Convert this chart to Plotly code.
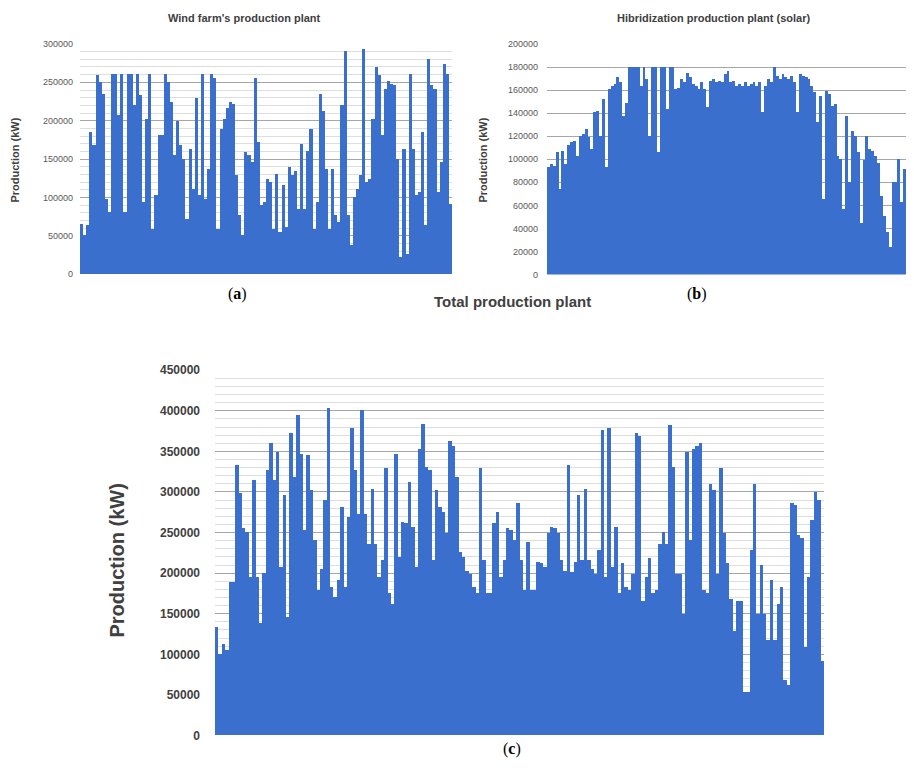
import plotly.graph_objects as go

# ---- data (production, thousands of kW) ----
wind_k = [66, 51, 64, 185, 168, 259, 250, 235, 98, 81, 261, 261, 207, 261, 81, 261, 261, 220, 261, 233,
          94, 202, 261, 59, 103, 181, 181, 261, 250, 224, 155, 200, 168, 150, 72, 163, 111, 230, 103, 261,
          98, 137, 261, 256, 59, 189, 202, 217, 224, 222, 129, 77, 51, 159, 155, 146, 256, 172, 90, 94, 124,
          120, 59, 131, 55, 116, 62, 140, 129, 135, 85, 170, 85, 161, 189, 59, 94, 235, 213, 137, 59, 137,
          77, 68, 220, 291, 77, 38, 101, 111, 129, 293, 120, 124, 202, 270, 259, 181, 241, 252, 248, 246,
          150, 23, 163, 27, 261, 163, 103, 107, 185, 64, 280, 246, 241, 107, 146, 274, 261, 92]

solar_k = [93, 96, 94, 106, 74, 107, 96, 112, 115, 116, 103, 120, 122, 126, 119, 109, 141, 142, 120, 152,
           93, 161, 164, 165, 171, 167, 138, 149, 180, 180, 180, 180, 164, 180, 170, 120, 180, 180, 106, 180,
           180, 144, 180, 180, 161, 162, 170, 167, 175, 171, 165, 164, 161, 167, 161, 145, 168, 170, 167, 168,
           167, 174, 177, 167, 168, 164, 165, 164, 167, 164, 165, 167, 164, 167, 141, 164, 170, 167, 180, 172,
           170, 174, 171, 170, 172, 167, 141, 174, 172, 171, 170, 164, 158, 132, 155, 66, 159, 157, 146, 148,
           103, 100, 57, 138, 80, 125, 120, 106, 45, 99, 120, 109, 107, 103, 97, 68, 51, 37, 24, 80, 80, 100,
           63, 92]

total_k = [133, 100, 113, 105, 189, 189, 333, 298, 255, 250, 195, 314, 195, 138, 200, 327, 360, 314, 349, 207,
           296, 146, 372, 318, 395, 347, 253, 345, 302, 240, 179, 205, 290, 403, 183, 170, 191, 281, 183, 269,
           378, 327, 273, 401, 273, 236, 304,
           236, 195, 216, 329, 175, 162, 347, 220, 263, 261, 312, 257, 207, 353, 384, 331, 327, 216, 302, 281,
           275, 249, 362, 356, 318, 226, 220, 203, 199, 183, 175, 329, 216, 175, 175, 261, 275, 195, 216, 255,
           253, 240, 286, 216,
           179, 238, 179, 179, 214, 212, 207, 249, 257, 255, 249, 216, 203, 333, 201, 214, 296, 216, 304, 216,
           205, 199, 228, 376, 195, 378, 207, 257, 175, 212, 183, 179, 199, 372, 369, 166, 195, 218, 175, 179,
           236, 251, 236, 382, 331,
           199, 199, 150, 349, 240, 353, 357, 360, 179, 175, 310, 302, 199, 329, 249, 212, 168, 129, 166, 166,
           53, 53, 228, 310, 150, 210, 150, 117, 191, 117, 162, 183, 68, 62, 286, 284, 247, 243, 109, 195,
           265, 300, 290, 92]

wind_kw = [v * 1000 for v in wind_k]
solar_kw = [v * 1000 for v in solar_k]
total_kw = [v * 1000 for v in total_k]

titles = ["Wind farm's production plant", "Hibridization production plant (solar)", "Total production plant"]
y_title = "Production (kW)"
panel_labels = ["(<b>a</b>)", "(<b>b</b>)", "(<b>c</b>)"]

BLUE = "#3a6fce"
PAGE_MARGIN = 8          # default body margin of the html page
W, H = 914 - 2 * PAGE_MARGIN, 769 - 2 * PAGE_MARGIN
# measured vertical mapping of the photographed page (screen_y = OFF + SCALE * y)
V_OFF, V_SCALE = 6.5, 0.9816


def px(x):
    return min(1.0, max(0.0, (x - PAGE_MARGIN) / W))


def py(y):
    y_in = (y - V_OFF) / V_SCALE
    return min(1.0, max(0.0, 1 - (y_in - PAGE_MARGIN) / H))


fig = go.Figure()
for vals, xa, ya in [(wind_kw, "x", "y"), (solar_kw, "x2", "y2"), (total_kw, "x3", "y3")]:
    fig.add_trace(go.Bar(x=list(range(len(vals))), y=vals, xaxis=xa, yaxis=ya,
                         marker=dict(color=BLUE, line=dict(width=0)), hoverinfo="y"))

small_tick = dict(family="Liberation Sans", size=9, color="#595959")
big_tick = dict(family="Liberation Sans", size=12, color="#404040", weight="bold")


def xax(domain, n, anchor):
    return dict(domain=domain, range=[-0.5, n - 0.5], showticklabels=False, showgrid=False,
                zeroline=False, showline=False, ticks="", anchor=anchor)


fig.update_layout(
    width=W, height=H, margin=dict(l=0, r=0, t=0, b=0),
    paper_bgcolor="white", plot_bgcolor="white", showlegend=False,
    bargap=0, bargroupgap=0,
    xaxis=xax([px(80), px(452)], len(wind_kw), "y"),
    yaxis=dict(domain=[py(273.7), py(43.3)], range=[0, 300000], dtick=50000, tick0=0,
               showgrid=True, gridcolor="#a6a6a6", gridwidth=1, zeroline=False, showline=False,
               tickfont=small_tick, ticklabelstandoff=6, tickformat="d", anchor="x",
               minor=dict(dtick=10000, showgrid=True, gridcolor="#dedede", gridwidth=1)),
    xaxis2=xax([px(547), px(914)], len(solar_kw), "y2"),
    yaxis2=dict(domain=[py(274), py(43.3)], range=[0, 200000], dtick=20000, tick0=0,
                showgrid=True, gridcolor="#a6a6a6", gridwidth=1, zeroline=False, showline=False,
                tickfont=small_tick, ticklabelstandoff=8, tickformat="d", anchor="x2"),
    xaxis3=xax([px(215), px(824)], len(total_kw), "y3"),
    yaxis3=dict(domain=[py(735), py(369.6)], range=[0, 450000], dtick=50000, tick0=0,
                showgrid=True, gridcolor="#a6a6a6", gridwidth=1.2, zeroline=False, showline=False,
                tickfont=big_tick, ticklabelstandoff=14, tickformat="d", anchor="x3",
                minor=dict(dtick=10000, showgrid=True, gridcolor="#dedede", gridwidth=1)),
)

ann = []
title_font_small = dict(family="Liberation Sans", size=11, color="#404040", weight="bold")
ann.append(dict(text=titles[0], x=px(245), y=py(17), font=title_font_small))
ann.append(dict(text=titles[1], x=px(713), y=py(17), font=title_font_small))
ann.append(dict(text=titles[2], x=px(512), y=py(301),
                font=dict(family="Liberation Sans", size=15, color="#404040", weight="bold")))
ann.append(dict(text=y_title, x=px(15), y=py(160), textangle=-90, font=title_font_small))
ann.append(dict(text=y_title, x=px(483), y=py(160), textangle=-90, font=title_font_small))
ann.append(dict(text=y_title, x=px(117), y=py(560), textangle=-90,
                font=dict(family="Liberation Sans", size=20, color="#404040", weight="bold")))
serif = dict(family="Liberation Serif", size=16, color="black")
ann.append(dict(text=panel_labels[0], x=px(237), y=py(293), font=serif))
ann.append(dict(text=panel_labels[1], x=px(697), y=py(293), font=serif))
ann.append(dict(text=panel_labels[2], x=px(512), y=py(748), font=serif))
for a in ann:
    a.update(xref="paper", yref="paper", showarrow=False, xanchor="center", yanchor="middle")
fig.update_layout(annotations=ann)

fig.write_html("out.html")
